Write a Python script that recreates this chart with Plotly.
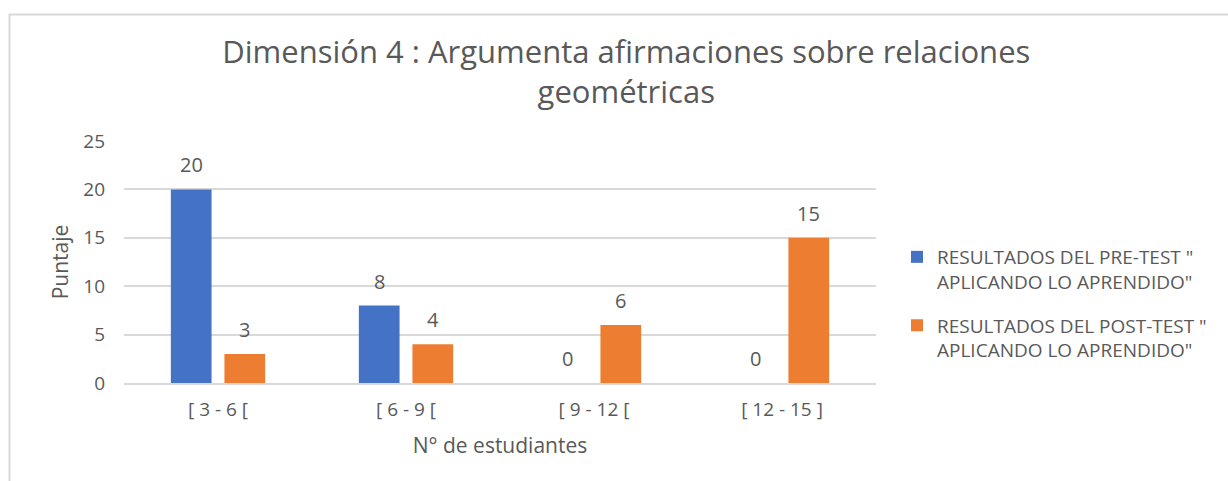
import plotly.graph_objects as go

categories = ["[ 3 - 6 [", "[ 6 - 9 [", "[ 9 - 12 [", "[ 12 - 15 ]"]
pre_values = [20, 8, 0, 0]
post_values = [3, 4, 6, 15]
series_names = ['RESULTADOS DEL PRE-TEST "<br>APLICANDO LO APRENDIDO"',
                'RESULTADOS DEL POST-TEST "<br>APLICANDO LO APRENDIDO"']
title_text = "Dimensión 4 : Argumenta afirmaciones sobre relaciones<br>geométricas"
y_ticks = [0, 5, 10, 15, 20, 25]

FONT = "Open Sans, Segoe UI, sans-serif"
GRAY = "#595959"
COLORS = ["#4472C4", "#ED7D31"]

fig = go.Figure()
for k, (vals, name, col) in enumerate(zip([pre_values, post_values], series_names, COLORS)):
    fig.add_trace(go.Bar(x=categories, y=vals, name=name, legendgroup=f"g{k}",
                         marker=dict(color=col, line=dict(width=0))))

L, R, T, B = 124, 352, 141, 98
W, H = 1228, 481
pw, ph = W - L - R, H - T - B
slot = pw / len(categories) * (1 - 0.43) / 2

# data labels placed through the axes
for i, vals in enumerate([pre_values, post_values]):
    off = (i - 0.5) * slot
    for c, v in zip(categories, vals):
        fig.add_annotation(x=c, y=v, xref="x", yref="y", text=str(v), showarrow=False,
                           xshift=off, yshift=9, yanchor="bottom",
                           font=dict(size=20, color=GRAY, family=FONT))

def px_x(px):
    return (px - L) / pw

def px_y(py):
    return (H - B - py) / ph

fig.add_shape(type="rect", xref="paper", yref="paper",
              x0=px_x(9.5), x1=px_x(1240), y0=px_y(14.5), y1=px_y(495),
              line=dict(color="#D9D9D9", width=2), fillcolor="rgba(0,0,0,0)", layer="below")

fig.update_layout(
    width=W, height=H,
    margin=dict(l=L, r=R, t=T, b=B),
    paper_bgcolor="white", plot_bgcolor="white",
    font=dict(family=FONT, color=GRAY),
    title=dict(text=title_text, x=0.51, xanchor="center", y=1 - 63 / H, yanchor="middle",
               font=dict(size=31, color=GRAY, family=FONT)),
    barmode="group", bargap=0.43, bargroupgap=0.24,
    showlegend=True,
    legend=dict(x=px_x(897), y=px_y(238), xanchor="left", yanchor="top",
                font=dict(size=19, color=GRAY, family=FONT), tracegroupgap=16,
                itemwidth=30, valign="top"),
    xaxis=dict(showgrid=False, showline=True, linecolor="#D9D9D9", linewidth=1.5,
               ticks="", tickfont=dict(size=19, color=GRAY), ticklabelstandoff=8,
               title=dict(text="N° de estudiantes", font=dict(size=21, color=GRAY), standoff=18)),
    yaxis=dict(range=[0, 25], tickvals=y_ticks, showgrid=True, gridcolor="#D9D9D9", gridwidth=1.5,
               zeroline=False, showline=False, ticks="", ticklen=0, ticklabelstandoff=18,
               tickfont=dict(size=19, color=GRAY),
               title=dict(text="Puntaje", font=dict(size=21, color=GRAY), standoff=8)),
)

fig.write_html("out.html", config={"displayModeBar": False},
               post_script="document.body.style.margin='0';document.body.style.overflow='hidden';")
